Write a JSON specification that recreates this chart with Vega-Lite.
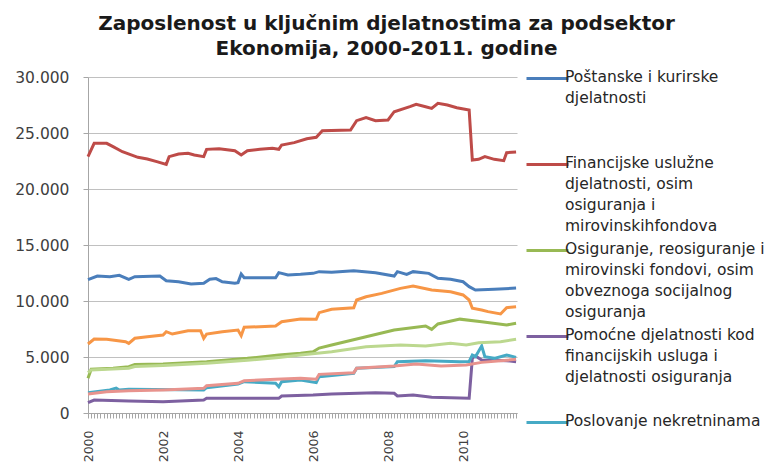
{
  "$schema": "https://vega.github.io/schema/vega-lite/v6.json",
  "width": 429,
  "height": 336,
  "autosize": {"type": "none"},
  "padding": {"left": 88, "top": 77, "right": 256, "bottom": 53},
  "background": "white",
  "title": {
    "text": ["Zaposlenost u ključnim djelatnostima za podsektor", "Ekonomija, 2000-2011. godine"],
    "font": "DejaVu Sans", "fontSize": 20, "fontWeight": "bold", "color": "#1a1a1a",
    "anchor": "middle", "frame": "group", "dx": 84, "lineHeight": 25, "offset": 7.5
  },
  "data": {"values": [
    {"s":"A","d":"2000/01/01","v":11900},{"s":"A","d":"2000/04/01","v":12230},{"s":"A","d":"2000/08/01","v":12170},{"s":"A","d":"2000/11/01","v":12290},
    {"s":"A","d":"2001/02/01","v":11940},{"s":"A","d":"2001/04/01","v":12170},{"s":"A","d":"2001/12/01","v":12230},{"s":"A","d":"2002/02/01","v":11810},
    {"s":"A","d":"2002/06/01","v":11720},{"s":"A","d":"2002/10/01","v":11520},{"s":"A","d":"2003/02/01","v":11580},{"s":"A","d":"2003/04/01","v":11940},
    {"s":"A","d":"2003/06/01","v":12000},{"s":"A","d":"2003/08/01","v":11720},{"s":"A","d":"2003/12/01","v":11580},{"s":"A","d":"2004/01/01","v":11640},
    {"s":"A","d":"2004/02/01","v":12410},{"s":"A","d":"2004/03/01","v":12080},{"s":"A","d":"2005/01/01","v":12080},{"s":"A","d":"2005/02/01","v":12530},
    {"s":"A","d":"2005/05/01","v":12320},{"s":"A","d":"2005/09/01","v":12380},{"s":"A","d":"2006/01/01","v":12470},{"s":"A","d":"2006/03/01","v":12620},
    {"s":"A","d":"2006/07/01","v":12560},{"s":"A","d":"2007/02/01","v":12700},{"s":"A","d":"2007/09/01","v":12530},{"s":"A","d":"2008/03/01","v":12230},
    {"s":"A","d":"2008/04/01","v":12620},{"s":"A","d":"2008/07/01","v":12380},{"s":"A","d":"2008/09/01","v":12620},{"s":"A","d":"2009/02/01","v":12470},
    {"s":"A","d":"2009/05/01","v":12030},{"s":"A","d":"2009/09/01","v":11940},{"s":"A","d":"2010/01/01","v":11720},{"s":"A","d":"2010/03/01","v":11280},
    {"s":"A","d":"2010/05/01","v":10980},{"s":"A","d":"2010/11/01","v":11040},{"s":"A","d":"2011/06/01","v":11150},

    {"s":"B","d":"2000/01/01","v":22900},{"s":"B","d":"2000/03/01","v":24080},{"s":"B","d":"2000/07/01","v":24080},{"s":"B","d":"2000/09/01","v":23780},
    {"s":"B","d":"2000/12/01","v":23330},{"s":"B","d":"2001/05/01","v":22830},{"s":"B","d":"2001/08/01","v":22680},{"s":"B","d":"2001/11/01","v":22440},
    {"s":"B","d":"2002/02/01","v":22200},{"s":"B","d":"2002/03/01","v":22890},{"s":"B","d":"2002/06/01","v":23130},{"s":"B","d":"2002/09/01","v":23190},
    {"s":"B","d":"2002/11/01","v":23040},{"s":"B","d":"2003/02/01","v":22890},{"s":"B","d":"2003/03/01","v":23540},{"s":"B","d":"2003/07/01","v":23600},
    {"s":"B","d":"2003/12/01","v":23420},{"s":"B","d":"2004/02/01","v":23040},{"s":"B","d":"2004/04/01","v":23420},{"s":"B","d":"2004/08/01","v":23540},
    {"s":"B","d":"2004/12/01","v":23630},{"s":"B","d":"2005/02/01","v":23540},{"s":"B","d":"2005/03/01","v":23930},{"s":"B","d":"2005/07/01","v":24140},
    {"s":"B","d":"2005/11/01","v":24480},{"s":"B","d":"2006/02/01","v":24620},{"s":"B","d":"2006/04/01","v":25210},{"s":"B","d":"2007/01/01","v":25270},
    {"s":"B","d":"2007/03/01","v":26100},{"s":"B","d":"2007/06/01","v":26370},{"s":"B","d":"2007/09/01","v":26100},{"s":"B","d":"2008/01/01","v":26160},
    {"s":"B","d":"2008/03/01","v":26900},{"s":"B","d":"2008/08/01","v":27350},{"s":"B","d":"2008/10/01","v":27560},{"s":"B","d":"2009/01/01","v":27350},
    {"s":"B","d":"2009/03/01","v":27200},{"s":"B","d":"2009/05/01","v":27650},{"s":"B","d":"2009/08/01","v":27500},{"s":"B","d":"2009/11/01","v":27260},
    {"s":"B","d":"2010/03/01","v":27050},{"s":"B","d":"2010/04/01","v":22590},{"s":"B","d":"2010/06/01","v":22650},{"s":"B","d":"2010/08/01","v":22890},
    {"s":"B","d":"2010/11/01","v":22650},{"s":"B","d":"2011/02/01","v":22530},{"s":"B","d":"2011/03/01","v":23240},{"s":"B","d":"2011/06/01","v":23300},

    {"s":"C","d":"2000/01/01","v":3100},{"s":"C","d":"2000/02/01","v":3900},{"s":"C","d":"2000/09/01","v":3990},{"s":"C","d":"2001/02/01","v":4140},
    {"s":"C","d":"2001/04/01","v":4320},{"s":"C","d":"2002/01/01","v":4380},{"s":"C","d":"2003/03/01","v":4580},{"s":"C","d":"2004/04/01","v":4880},
    {"s":"C","d":"2005/02/01","v":5180},{"s":"C","d":"2005/09/01","v":5330},{"s":"C","d":"2006/01/01","v":5470},{"s":"C","d":"2006/03/01","v":5800},
    {"s":"C","d":"2006/07/01","v":6070},{"s":"C","d":"2007/06/01","v":6810},{"s":"C","d":"2008/03/01","v":7410},{"s":"C","d":"2009/01/01","v":7770},
    {"s":"C","d":"2009/03/01","v":7470},{"s":"C","d":"2009/05/01","v":7950},{"s":"C","d":"2009/12/01","v":8380},{"s":"C","d":"2010/07/01","v":8150},
    {"s":"C","d":"2011/03/01","v":7860},{"s":"C","d":"2011/06/01","v":8010},

    {"s":"D","d":"2000/01/01","v":920},{"s":"D","d":"2000/03/01","v":1160},{"s":"D","d":"2001/02/01","v":1070},{"s":"D","d":"2002/01/01","v":1010},
    {"s":"D","d":"2003/02/01","v":1160},{"s":"D","d":"2003/03/01","v":1310},{"s":"D","d":"2005/02/01","v":1310},{"s":"D","d":"2005/03/01","v":1520},
    {"s":"D","d":"2006/01/01","v":1610},{"s":"D","d":"2006/07/01","v":1700},{"s":"D","d":"2007/09/01","v":1810},{"s":"D","d":"2008/03/01","v":1760},
    {"s":"D","d":"2008/04/01","v":1520},{"s":"D","d":"2008/09/01","v":1610},{"s":"D","d":"2009/03/01","v":1400},{"s":"D","d":"2010/03/01","v":1310},
    {"s":"D","d":"2010/04/01","v":4880},{"s":"D","d":"2010/05/01","v":5100},{"s":"D","d":"2010/07/01","v":4730},{"s":"D","d":"2011/03/01","v":4670},
    {"s":"D","d":"2011/06/01","v":4580},

    {"s":"E","d":"2000/01/01","v":1810},{"s":"E","d":"2000/08/01","v":2050},{"s":"E","d":"2000/10/01","v":2220},{"s":"E","d":"2000/11/01","v":2050},
    {"s":"E","d":"2001/02/01","v":2110},{"s":"E","d":"2003/02/01","v":2050},{"s":"E","d":"2003/03/01","v":2260},{"s":"E","d":"2004/01/01","v":2590},
    {"s":"E","d":"2004/03/01","v":2800},{"s":"E","d":"2005/01/01","v":2650},{"s":"E","d":"2005/02/01","v":2350},{"s":"E","d":"2005/03/01","v":2800},
    {"s":"E","d":"2005/09/01","v":2950},{"s":"E","d":"2006/02/01","v":2710},{"s":"E","d":"2006/03/01","v":3240},{"s":"E","d":"2007/02/01","v":3540},
    {"s":"E","d":"2007/03/01","v":3990},{"s":"E","d":"2008/03/01","v":4140},{"s":"E","d":"2008/04/01","v":4580},{"s":"E","d":"2009/01/01","v":4670},
    {"s":"E","d":"2009/12/01","v":4580},{"s":"E","d":"2010/03/01","v":4600},{"s":"E","d":"2010/04/01","v":5180},{"s":"E","d":"2010/05/01","v":5030},
    {"s":"E","d":"2010/07/01","v":5980},{"s":"E","d":"2010/08/01","v":5030},{"s":"E","d":"2010/11/01","v":4880},{"s":"E","d":"2011/03/01","v":5180},
    {"s":"E","d":"2011/06/01","v":4970},

    {"s":"F","d":"2000/01/01","v":6160},{"s":"F","d":"2000/03/01","v":6610},{"s":"F","d":"2000/07/01","v":6580},{"s":"F","d":"2001/01/01","v":6370},
    {"s":"F","d":"2001/02/01","v":6220},{"s":"F","d":"2001/04/01","v":6670},{"s":"F","d":"2001/08/01","v":6810},{"s":"F","d":"2002/01/01","v":6960},
    {"s":"F","d":"2002/02/01","v":7260},{"s":"F","d":"2002/04/01","v":7050},{"s":"F","d":"2002/09/01","v":7350},{"s":"F","d":"2003/01/01","v":7350},
    {"s":"F","d":"2003/02/01","v":6670},{"s":"F","d":"2003/03/01","v":7050},{"s":"F","d":"2003/08/01","v":7260},{"s":"F","d":"2004/01/01","v":7410},
    {"s":"F","d":"2004/02/01","v":6900},{"s":"F","d":"2004/03/01","v":7650},{"s":"F","d":"2005/01/01","v":7770},{"s":"F","d":"2005/03/01","v":8150},
    {"s":"F","d":"2005/09/01","v":8390},{"s":"F","d":"2006/02/01","v":8370},{"s":"F","d":"2006/03/01","v":8960},{"s":"F","d":"2006/07/01","v":9260},
    {"s":"F","d":"2007/02/01","v":9400},{"s":"F","d":"2007/03/01","v":10090},{"s":"F","d":"2007/06/01","v":10380},{"s":"F","d":"2007/11/01","v":10680},
    {"s":"F","d":"2008/05/01","v":11130},{"s":"F","d":"2008/09/01","v":11340},{"s":"F","d":"2009/03/01","v":10980},{"s":"F","d":"2009/09/01","v":10830},
    {"s":"F","d":"2010/01/01","v":10540},{"s":"F","d":"2010/03/01","v":10090},{"s":"F","d":"2010/04/01","v":9350},{"s":"F","d":"2010/07/01","v":9200},
    {"s":"F","d":"2010/09/01","v":9050},{"s":"F","d":"2011/01/01","v":8840},{"s":"F","d":"2011/03/01","v":9400},{"s":"F","d":"2011/06/01","v":9490},

    {"s":"G","d":"2000/01/01","v":3600},{"s":"G","d":"2000/02/01","v":3850},{"s":"G","d":"2001/02/01","v":4000},{"s":"G","d":"2001/04/01","v":4150},
    {"s":"G","d":"2002/01/01","v":4250},{"s":"G","d":"2003/03/01","v":4450},{"s":"G","d":"2004/04/01","v":4700},{"s":"G","d":"2005/02/01","v":4950},
    {"s":"G","d":"2005/09/01","v":5180},{"s":"G","d":"2006/07/01","v":5470},{"s":"G","d":"2007/06/01","v":5920},{"s":"G","d":"2008/05/01","v":6070},
    {"s":"G","d":"2009/01/01","v":5980},{"s":"G","d":"2009/09/01","v":6220},{"s":"G","d":"2010/02/01","v":6070},{"s":"G","d":"2010/06/01","v":6280},
    {"s":"G","d":"2011/01/01","v":6370},{"s":"G","d":"2011/06/01","v":6580},

    {"s":"H","d":"2000/01/01","v":1700},{"s":"H","d":"2000/07/01","v":1900},{"s":"H","d":"2001/02/01","v":1990},{"s":"H","d":"2002/01/01","v":2050},
    {"s":"H","d":"2003/02/01","v":2200},{"s":"H","d":"2003/03/01","v":2440},{"s":"H","d":"2004/01/01","v":2650},{"s":"H","d":"2004/03/01","v":2880},
    {"s":"H","d":"2005/01/01","v":3010},{"s":"H","d":"2005/09/01","v":3100},{"s":"H","d":"2006/02/01","v":3010},{"s":"H","d":"2006/03/01","v":3450},
    {"s":"H","d":"2007/02/01","v":3600},{"s":"H","d":"2007/03/01","v":3990},{"s":"H","d":"2008/03/01","v":4200},{"s":"H","d":"2008/10/01","v":4380},
    {"s":"H","d":"2009/06/01","v":4200},{"s":"H","d":"2010/02/01","v":4290},{"s":"H","d":"2010/07/01","v":4520},{"s":"H","d":"2011/06/01","v":4790}
  ]},
  "mark": {"type": "line", "strokeWidth": 3},
  "encoding": {
    "x": {
      "field": "d", "type": "temporal",
      "scale": {"domain": ["2000/01/01", "2011/06/10"]},
      "axis": {
        "title": null, "grid": false,
        "tickCount": {"interval": "month", "step": 1},
        "labelExpr": "month(datum.value) == 0 && year(datum.value) % 2 == 0 ? timeFormat(datum.value, '%Y') : ''",
        "labelAngle": -90, "labelOverlap": false, "labelFlush": false,
        "labelFont": "DejaVu Sans", "labelFontSize": 12.5, "labelColor": "#404040", "labelPadding": 12,
        "tickSize": 5, "tickColor": "#a6a6a6", "domainColor": "#a6a6a6"
      }
    },
    "y": {
      "field": "v", "type": "quantitative",
      "scale": {"domain": [0, 30000]},
      "axis": {
        "title": null, "values": [0, 5000, 10000, 15000, 20000, 25000, 30000],
        "labelExpr": "replace(format(datum.value, ','), ',', '.')",
        "grid": true, "gridColor": "#c0c0c0", "gridWidth": 1.2,
        "tickSize": 5, "tickColor": "#a6a6a6", "domainColor": "#a6a6a6",
        "labelFont": "DejaVu Sans", "labelFontSize": 15.5, "labelColor": "#404040", "labelPadding": 14
      }
    },
    "color": {
      "field": "s", "type": "nominal",
      "scale": {
        "domain": ["A", "B", "C", "D", "E", "F", "G", "H"],
        "range": ["#4A7EBB", "#BE4B48", "#98B954", "#7D60A0", "#46AAC5", "#F79646", "#BCD88F", "#E8938D"]
      },
      "legend": {
        "orient": "none", "legendX": 447.5, "legendY": -10.5,
        "values": ["A", "B", "C", "D", "E"],
        "title": null, "padding": 0, "gridAlign": "all",
        "symbolType": "M-2,0H2", "symbolSize": 441, "symbolStrokeWidth": 3,
        "labelFont": "DejaVu Sans", "labelFontSize": 15.5, "labelColor": "#262626",
        "labelLimit": 400, "labelBaseline": "top", "labelOffset": 5.5, "rowPadding": 4,
        "labelExpr": "datum.label == 'A' ? ['Poštanske i kurirske', 'djelatnosti'] : datum.label == 'B' ? ['Financijske uslužne', 'djelatnosti, osim', 'osiguranja i', 'mirovinskihfondova'] : datum.label == 'C' ? ['Osiguranje, reosiguranje i', 'mirovinski fondovi, osim', 'obveznoga socijalnog', 'osiguranja'] : datum.label == 'D' ? ['Pomoćne djelatnosti kod', 'financijskih usluga i', 'djelatnosti osiguranja'] : ['Poslovanje nekretninama']",
        "encode": {"labels": {"update": {"lineHeight": {"value": 21}, "dy": {"value": -9}}}}
      }
    }
  },
  "config": {"view": {"stroke": null}}
}
